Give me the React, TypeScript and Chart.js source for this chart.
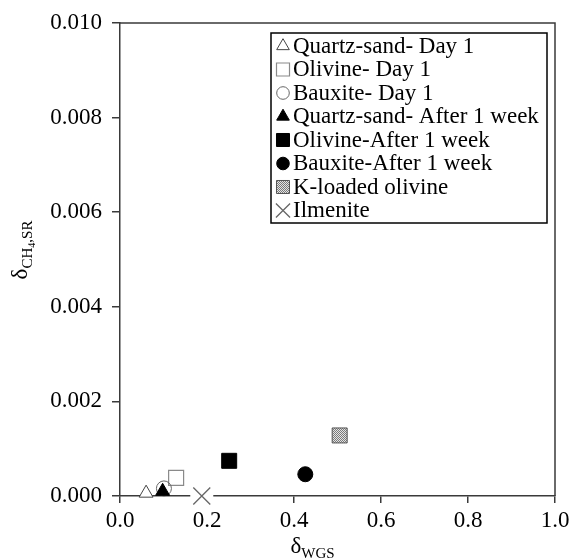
import React, { useEffect, useRef } from 'react';
import { Chart, registerables } from 'chart.js';
import { drawPoint } from 'chart.js/helpers';

Chart.register(...registerables);

// ---- data ----
const seriesNames = [
  'Quartz-sand- Day 1',
  'Olivine- Day 1',
  'Bauxite- Day 1',
  'Quartz-sand- After 1 week',
  'Olivine-After 1 week',
  'Bauxite-After 1 week',
  'K-loaded olivine',
  'Ilmenite',
];
const xValues = [0.06, 0.129, 0.101, 0.098, 0.251, 0.426, 0.505, 0.188];
const yValues = [0.00006, 0.000385, 0.00016, 0.0001, 0.000744, 0.00046, 0.00128, 0.0];
const xAxisMin = 0;
const xAxisMax = 1;
const xAxisStep = 0.2;
const yAxisMin = 0;
const yAxisMax = 0.01;
const yAxisStep = 0.002;

const FONT = "'Liberation Serif', 'Times New Roman', serif";
const AXIS_COLOR = '#3a3a3a';

function makePattern(): CanvasPattern | string {
  const c = document.createElement('canvas');
  c.width = 4;
  c.height = 4;
  const g = c.getContext('2d');
  if (!g) return '#aaa';
  g.fillStyle = '#e4e4e4';
  g.fillRect(0, 0, 4, 4);
  g.fillStyle = '#7a7a7a';
  for (let y = 0; y < 4; y++) {
    for (let x = 0; x < 4; x++) {
      if ((x + y) % 2 === 0) g.fillRect(x, y, 1, 1);
    }
  }
  return g.createPattern(c, 'repeat') || '#aaa';
}

type Style = {
  pointStyle: string;
  radius: number;
  legendRadius: number;
  bg: any;
  border: string;
  borderWidth: number;
};

function buildStyles(pattern: any): Style[] {
  return [
    { pointStyle: 'triangle', radius: 8, legendRadius: 7.3, bg: '#ffffff', border: '#444444', borderWidth: 1 },
    { pointStyle: 'rect', radius: 10.6, legendRadius: 9.2, bg: '#ffffff', border: '#8a8a8a', borderWidth: 1.2 },
    { pointStyle: 'circle', radius: 7.5, legendRadius: 6.3, bg: 'rgba(255,255,255,0)', border: '#666666', borderWidth: 1 },
    { pointStyle: 'triangle', radius: 8, legendRadius: 7.3, bg: '#000000', border: '#000000', borderWidth: 1 },
    { pointStyle: 'rect', radius: 10.6, legendRadius: 9.2, bg: '#000000', border: '#000000', borderWidth: 1 },
    { pointStyle: 'circle', radius: 7.5, legendRadius: 6.3, bg: '#000000', border: '#000000', borderWidth: 1 },
    { pointStyle: 'rect', radius: 10.6, legendRadius: 9.2, bg: pattern, border: '#555555', borderWidth: 1 },
    { pointStyle: 'crossRot', radius: 12, legendRadius: 10, bg: '#666666', border: '#666666', borderWidth: 1.3 },
  ];
}

type Part = { text: string; size: number; dy: number };

function drawRich(ctx: CanvasRenderingContext2D, parts: Part[], x: number, y: number) {
  let cx = x;
  for (const p of parts) {
    ctx.font = `${p.size}px ${FONT}`;
    ctx.fillText(p.text, cx, y + p.dy);
    cx += ctx.measureText(p.text).width;
  }
  return cx - x;
}

function richWidth(ctx: CanvasRenderingContext2D, parts: Part[]) {
  let w = 0;
  for (const p of parts) {
    ctx.font = `${p.size}px ${FONT}`;
    w += ctx.measureText(p.text).width;
  }
  return w;
}

export default function App() {
  const ref = useRef<HTMLCanvasElement>(null);

  useEffect(() => {
    document.body.style.margin = '0';
    const canvas = ref.current;
    if (!canvas) return;
    const pattern = makePattern();
    const styles = buildStyles(pattern);
    const ilmeniteIndex = seriesNames.length - 1;

    const datasets = seriesNames.map((name, i) => ({
      label: name,
      data: [{ x: xValues[i], y: yValues[i] }],
      pointStyle: styles[i].pointStyle as any,
      pointRadius: styles[i].radius,
      pointHoverRadius: styles[i].radius,
      pointBackgroundColor: styles[i].bg,
      pointBorderColor: styles[i].border,
      pointBorderWidth: styles[i].borderWidth,
      showLine: false,
      clip: false as any,
      order: seriesNames.length - i,
    }));

    const overlay = {
      id: 'overlay',
      beforeDatasetsDraw(chart: any) {
        const { ctx, chartArea, scales } = chart;
        ctx.save();
        ctx.strokeStyle = AXIS_COLOR;
        ctx.lineWidth = 1.5;
        ctx.beginPath();
        ctx.moveTo(chartArea.left, chartArea.top);
        ctx.lineTo(chartArea.right, chartArea.top);
        ctx.lineTo(chartArea.right, chartArea.bottom);
        ctx.stroke();
        // white knock-out behind the Ilmenite marker (as in the original)
        const px = scales.x.getPixelForValue(xValues[ilmeniteIndex]);
        const py = scales.y.getPixelForValue(yValues[ilmeniteIndex]);
        ctx.fillStyle = '#ffffff';
        ctx.fillRect(px - 11.5, py - 4, 23, 12);
        ctx.restore();
      },
      afterDraw(chart: any) {
        const { ctx, chartArea } = chart;
        ctx.save();
        // legend box
        const boxL = chartArea.left + 151;
        const boxT = chartArea.top + 10;
        const boxR = chartArea.right - 8;
        const boxB = chartArea.top + 200;
        ctx.strokeStyle = '#000';
        ctx.lineWidth = 1.5;
        ctx.strokeRect(boxL, boxT, boxR - boxL, boxB - boxT);
        ctx.fillStyle = '#000';
        ctx.textBaseline = 'alphabetic';
        ctx.textAlign = 'left';
        ctx.font = `23px ${FONT}`;
        seriesNames.forEach((name, i) => {
          const base = boxT + 19.5 + i * 23.5;
          const mx = boxL + 12;
          const my = base - 6.5;
          const s = styles[i];
          ctx.save();
          ctx.fillStyle = s.bg;
          ctx.strokeStyle = s.border;
          ctx.lineWidth = s.borderWidth;
          drawPoint(ctx, { pointStyle: s.pointStyle as any, rotation: 0, radius: s.legendRadius, borderWidth: s.borderWidth } as any, mx, my);
          ctx.restore();
          ctx.fillStyle = '#000';
          ctx.font = `23px ${FONT}`;
          ctx.fillText(name, boxL + 22, base);
        });

        // x axis title
        const xParts: Part[] = [
          { text: 'δ', size: 23, dy: 0 },
          { text: 'WGS', size: 15, dy: 5 },
        ];
        const xw = richWidth(ctx, xParts);
        const xc = (chartArea.left + chartArea.right) / 2 - 25;
        drawRich(ctx, xParts, xc - xw / 2, 553);

        // y axis title
        const yParts: Part[] = [
          { text: 'δ', size: 23, dy: 0 },
          { text: 'CH', size: 15, dy: 5 },
          { text: '4', size: 10, dy: 8 },
          { text: ',SR', size: 15, dy: 5 },
        ];
        const yw = richWidth(ctx, yParts);
        ctx.translate(27, 250);
        ctx.rotate(-Math.PI / 2);
        drawRich(ctx, yParts, -yw / 2, 0);
        ctx.restore();
      },
    };

    const chart = new Chart(canvas, {
      type: 'scatter',
      data: { datasets },
      options: {
        animation: false,
        responsive: false,
        maintainAspectRatio: false,
        layout: { padding: { left: 0, right: 15, top: 23, bottom: 0 } },
        plugins: {
          legend: { display: false },
          tooltip: { enabled: false },
        },
        scales: {
          x: {
            type: 'linear',
            min: xAxisMin,
            max: xAxisMax,
            afterFit: (s: any) => { s.height = 63; s.paddingLeft = 0; s.paddingRight = 0; },
            ticks: {
              stepSize: xAxisStep,
              color: '#000',
              font: { family: FONT, size: 23 },
              padding: 4,
              maxRotation: 0,
              callback: (v: any) => Number(v).toFixed(1),
            },
            grid: { drawOnChartArea: false, drawTicks: true, tickLength: 7, color: AXIS_COLOR, lineWidth: 1.5 },
            border: { display: true, color: AXIS_COLOR, width: 1.5 },
          },
          y: {
            type: 'linear',
            min: yAxisMin,
            max: yAxisMax,
            afterFit: (s: any) => { s.width = 120; s.paddingTop = 0; s.paddingBottom = 0; },
            ticks: {
              stepSize: yAxisStep,
              color: '#000',
              font: { family: FONT, size: 23 },
              padding: 10,
              callback: (v: any) => Number(v).toFixed(3),
            },
            grid: { drawOnChartArea: false, drawTicks: true, tickLength: 8, color: AXIS_COLOR, lineWidth: 1.5 },
            border: { display: true, color: AXIS_COLOR, width: 1.5 },
          },
        },
      },
      plugins: [overlay],
    });
    return () => chart.destroy();
  }, []);

  return (
    <div style={{ width: 570, height: 559, background: '#fff' }}>
      <canvas ref={ref} width={570} height={559} style={{ display: 'block', width: 570, height: 559 }} />
    </div>
  );
}
